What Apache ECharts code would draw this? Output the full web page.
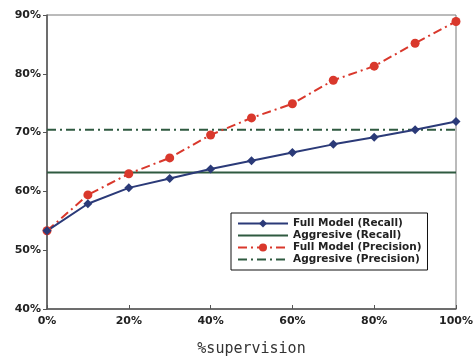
<!DOCTYPE html>
<html><head><meta charset="utf-8">
<script src="https://cdn.jsdelivr.net/npm/echarts@6/dist/echarts.min.js"></script>
<style>html,body{margin:0;padding:0;background:#fff}#c{width:473px;height:358px}</style>
</head><body><div id="c"></div>
<script>
var supervision = [0, 10, 20, 30, 40, 50, 60, 70, 80, 90, 100];
var fullRecall = [53.3, 57.9, 60.6, 62.2, 63.8, 65.2, 66.6, 68.0, 69.2, 70.5, 71.9];
var fullPrecision = [53.3, 59.4, 63.0, 65.7, 69.6, 72.5, 74.9, 78.9, 81.3, 85.2, 88.9];
var aggRecall = 63.2;
var aggPrecision = 70.5;
var xRange = [0, 100];
var yRange = [40, 90];

function pairs(xs, ys){ return xs.map(function(x,i){return [x, ys[i]];}); }
function flat(v){ return xRange.map(function(x){return [x, v];}); }

var chart = echarts.init(document.getElementById('c'));
var lblFont = {fontFamily:'DejaVu Sans', fontWeight:'bold', fontSize:11, color:'#222'};
chart.setOption({
  animation:false,
  grid:{left:47, right:17, top:15, bottom:49, show:true, borderColor:'#777', borderWidth:1,
    containLabel:false, outerBoundsMode:'none'},
  xAxis:{type:'value', min:xRange[0], max:xRange[1], interval:20,
    name:'%supervision', nameLocation:'middle', nameGap:33,
    nameTextStyle:{fontFamily:'DejaVu Sans Mono', fontSize:15, color:'#333'},
    axisLine:{lineStyle:{color:'#555', width:1.5}},
    axisTick:{inside:true, length:4, lineStyle:{color:'#555'}},
    axisLabel:Object.assign({formatter:'{value}%', margin:7}, lblFont),
    splitLine:{show:false}},
  yAxis:{type:'value', min:yRange[0], max:yRange[1], interval:10,
    axisLine:{show:true, lineStyle:{color:'#555', width:1.5}},
    axisTick:{show:true, length:4, lineStyle:{color:'#555'}},
    axisLabel:Object.assign({formatter:'{value}%', margin:6}, lblFont),
    splitLine:{show:false}},
  legend:{orient:'vertical', left:231, top:213, padding:[5,6,5,6], itemGap:1,
    itemWidth:50, itemHeight:10, borderColor:'#111', borderWidth:1, backgroundColor:'#fff',
    textStyle:{fontFamily:'DejaVu Sans', fontWeight:'bold', fontSize:10.5, color:'#222'},
    data:['Full Model (Recall)',
      {name:'Aggresive (Recall)', itemStyle:{opacity:0}},
      'Full Model (Precision)',
      {name:'Aggresive (Precision)', itemStyle:{opacity:0}}]},
  series:[
    {name:'Aggresive (Recall)', type:'line', data:flat(aggRecall), symbol:'none',
      lineStyle:{color:'#2f5a40', width:2}, itemStyle:{color:'#2f5a40'}},
    {name:'Aggresive (Precision)', type:'line', data:flat(aggPrecision), symbol:'none',
      lineStyle:{color:'#2f5a40', width:2, type:[9,4,2,4]}, itemStyle:{color:'#2f5a40'}},
    {name:'Full Model (Precision)', type:'line', data:pairs(supervision, fullPrecision),
      symbol:'circle', symbolSize:9,
      lineStyle:{color:'#d9382c', width:2, type:[9,4,2,4]}, itemStyle:{color:'#d9382c'}},
    {name:'Full Model (Recall)', type:'line', data:pairs(supervision, fullRecall),
      symbol:'diamond', symbolSize:9,
      lineStyle:{color:'#2b3a78', width:2}, itemStyle:{color:'#2b3a78'}}
  ]
});
</script></body></html>
